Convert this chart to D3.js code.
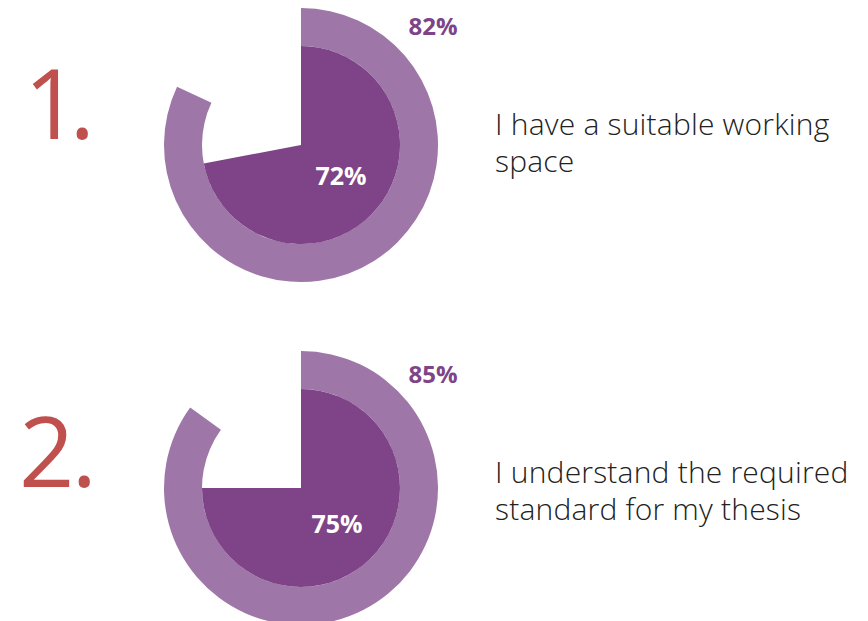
<!DOCTYPE html>
<html>
<head>
<meta charset="utf-8">
<script src="https://cdn.jsdelivr.net/npm/d3@7"></script>
<style>
  html, body { margin: 0; padding: 0; background: #ffffff; }
  svg { display: block; }
</style>
</head>
<body>
<svg id="chart" width="868" height="621"></svg>
<script>
// Survey items: outer ring and inner pie share the same start at 12 o'clock
const itemNumbers = ["1.", "2."];
const statements = [
  ["I have a suitable working", "space"],
  ["I understand the required", "standard for my thesis"]
];
const outerValues = [82, 85];
const innerValues = [72, 75];

const width = 868, height = 621;
const svg = d3.select("#chart");

const ringColor = "#9e76a8";
const pieColor = "#7e4487";
const numberColor = "#c0504d";

// Percent to angle
const angle = d3.scaleLinear().domain([0, 100]).range([0, 2 * Math.PI]);

// Vertical placement of each row
const rowY = d3.scalePoint().domain(d3.range(itemNumbers.length)).range([145, 488]);
const cx = 301;
const pieR = 99, ringOuter = 137;

const ringArc = d3.arc().innerRadius(pieR).outerRadius(ringOuter).startAngle(0);
const pieArc = d3.arc().innerRadius(0).outerRadius(pieR).startAngle(0);

const rows = svg.selectAll("g.row")
  .data(itemNumbers.map((n, i) => ({ n, i, outer: outerValues[i], inner: innerValues[i], text: statements[i] })))
  .join("g")
  .attr("class", "row")
  .attr("transform", d => `translate(0,${rowY(d.i)})`);

// Big item number
rows.append("text")
  .attr("x", d => d.i === 0 ? 24 : 19)
  .attr("y", d => d.i === 0 ? -6 : -1)
  .attr("fill", numberColor)
  .attr("letter-spacing", d => d.i === 0 ? -10 : -3)
  .style("font-family", "'Open Sans', sans-serif")
  .style("font-weight", 400)
  .style("font-size", "97px")
  .text(d => d.n);

const donut = rows.append("g").attr("transform", `translate(${cx},0)`);

donut.append("path")
  .attr("fill", ringColor)
  .attr("d", d => ringArc({ endAngle: angle(d.outer) }));

donut.append("path")
  .attr("fill", pieColor)
  .attr("d", d => pieArc({ endAngle: angle(d.inner) }));

// Outer value label
donut.append("text")
  .attr("x", 132)
  .attr("y", d => d.i === 0 ? -110 : -105)
  .attr("text-anchor", "middle")
  .attr("fill", pieColor)
  .style("font-family", "'Open Sans', sans-serif")
  .style("font-weight", 700)
  .style("font-size", "24px")
  .text(d => d.outer + "%");

// Inner value label
donut.append("text")
  .attr("x", d => d.i === 0 ? 40 : 36)
  .attr("y", d => d.i === 0 ? 40 : 45)
  .attr("text-anchor", "middle")
  .attr("fill", "#ffffff")
  .style("font-family", "'Open Sans', sans-serif")
  .style("font-weight", 700)
  .style("font-size", "25px")
  .text(d => d.inner + "%");

// Statement text
const st = rows.append("text")
  .attr("x", 495)
  .attr("y", d => d.i === 0 ? -10 : -5)
  .attr("fill", "#222222")
  .attr("letter-spacing", 0.2)
  .style("font-family", "'Open Sans', sans-serif")
  .style("font-weight", 300)
  .style("font-size", "30px");

st.selectAll("tspan")
  .data(d => d.text)
  .join("tspan")
  .attr("x", 495)
  .attr("dy", (d, j) => j === 0 ? 0 : 37)
  .text(d => d);
</script>
</body>
</html>
